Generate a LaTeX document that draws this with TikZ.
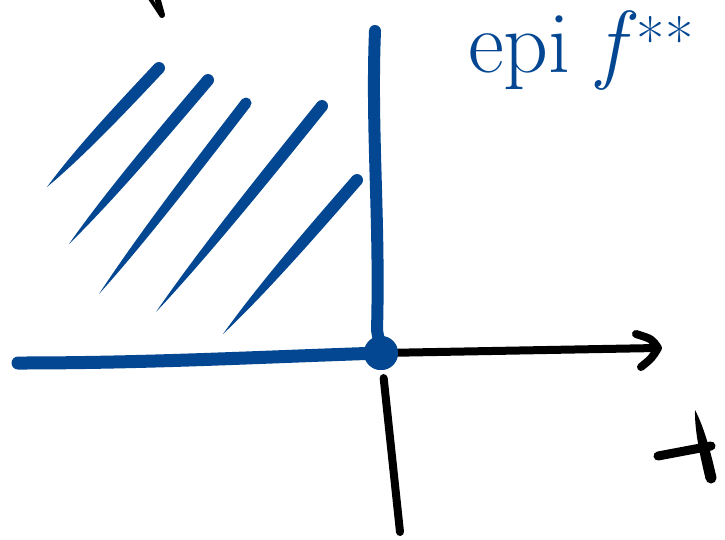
\documentclass[tikz,border=0pt]{standalone}
\usepackage{fontspec}
\usetikzlibrary{calc}
\definecolor{inkblue}{RGB}{3,70,145}
\tikzset{
  blueink/.style={draw=inkblue, line width=12pt, line cap=round, line join=round},
  blackink/.style={draw=black, line width=8pt, line cap=round, line join=round},
  dotnode/.style={circle, fill=inkblue, minimum size=34pt, inner sep=0pt},
  labelnode/.style={anchor=base west, inner sep=0pt, text=inkblue, font=\fontsize{88}{88}\selectfont}
}
% tapered stroke: thin end #1, round thick end #2, half width #3, colour #4
\newcommand\taperstroke[4]{%
  \coordinate (hp) at ($(#1)!0.3!(#2)$);
  \coordinate (hq) at ($(#1)!0.7!(#2)$);
  \fill[#4] (#1) .. controls ($(hp)!#3!90:(#2)$) and ($(hq)!#3!90:(#2)$) .. ($(#2)!#3!-90:(#1)$)
     -- ($(#2)!#3!90:(#1)$) .. controls ($(hq)!#3!-90:(#2)$) and ($(hp)!#3!-90:(#2)$) .. (#1) -- cycle;
  \fill[#4] (#2) circle (#3);
}
\begin{document}
\begin{tikzpicture}[x=1pt,y=-1pt]
\useasboundingbox (0,0) rectangle (725,539);
\fill[white] (0,0) rectangle (725,539);

% origin dot
\node[dotnode] (o) at (381,353) {};

% coordinates
\coordinate (top) at (375,31);
\coordinate (left) at (18,363);
\coordinate (xend) at (657,348);
\coordinate (yend) at (400,532);

% black axes
\draw[blackink] (o) -- (xend);
\draw[blackink] (636,334) .. controls (652,339) .. (658,348) .. controls (652,358) .. (641,367);
\draw[blackink, shorten <=8pt] (o) -- (yend);

% blue boundary lines
\draw[blueink] (top) .. controls (371,130) and (380,220) .. (377,330) -- (o.center);
\draw[blueink, line width=13pt] (left) .. controls (150,363) and (260,357) .. (o.center);
\node[dotnode] at (o) {};

% hatching
\coordinate (h1a) at (47,187);  \coordinate (h1b) at (159,68);
\coordinate (h2a) at (69,244);  \coordinate (h2b) at (208,80);
\coordinate (h3a) at (99,294);  \coordinate (h3b) at (246,103);
\coordinate (h4a) at (156,312); \coordinate (h4b) at (322,106);
\coordinate (h5a) at (223,334); \coordinate (h5b) at (357,180);
\taperstroke{h1a}{h1b}{6pt}{inkblue}
\taperstroke{h2a}{h2b}{6pt}{inkblue}
\taperstroke{h3a}{h3b}{5.5pt}{inkblue}
\taperstroke{h4a}{h4b}{6pt}{inkblue}
\taperstroke{h5a}{h5b}{6pt}{inkblue}

% label
\node[labelnode] (lbl) at (468,72) {epi \textit{f}\textsuperscript{**}};

% black marks at the edges
\coordinate (t1) at (695,410); \coordinate (t2) at (711,478);
\taperstroke{t1}{t2}{5.5pt}{black}
\draw[blackink, line width=9pt] (658,456) -- (711,446);
\draw[blackink, line width=4pt] (149,-3) -- (161,15);
\draw[blackink, line width=6pt] (157,-3) -- (162,15);
\end{tikzpicture}
\end{document}
